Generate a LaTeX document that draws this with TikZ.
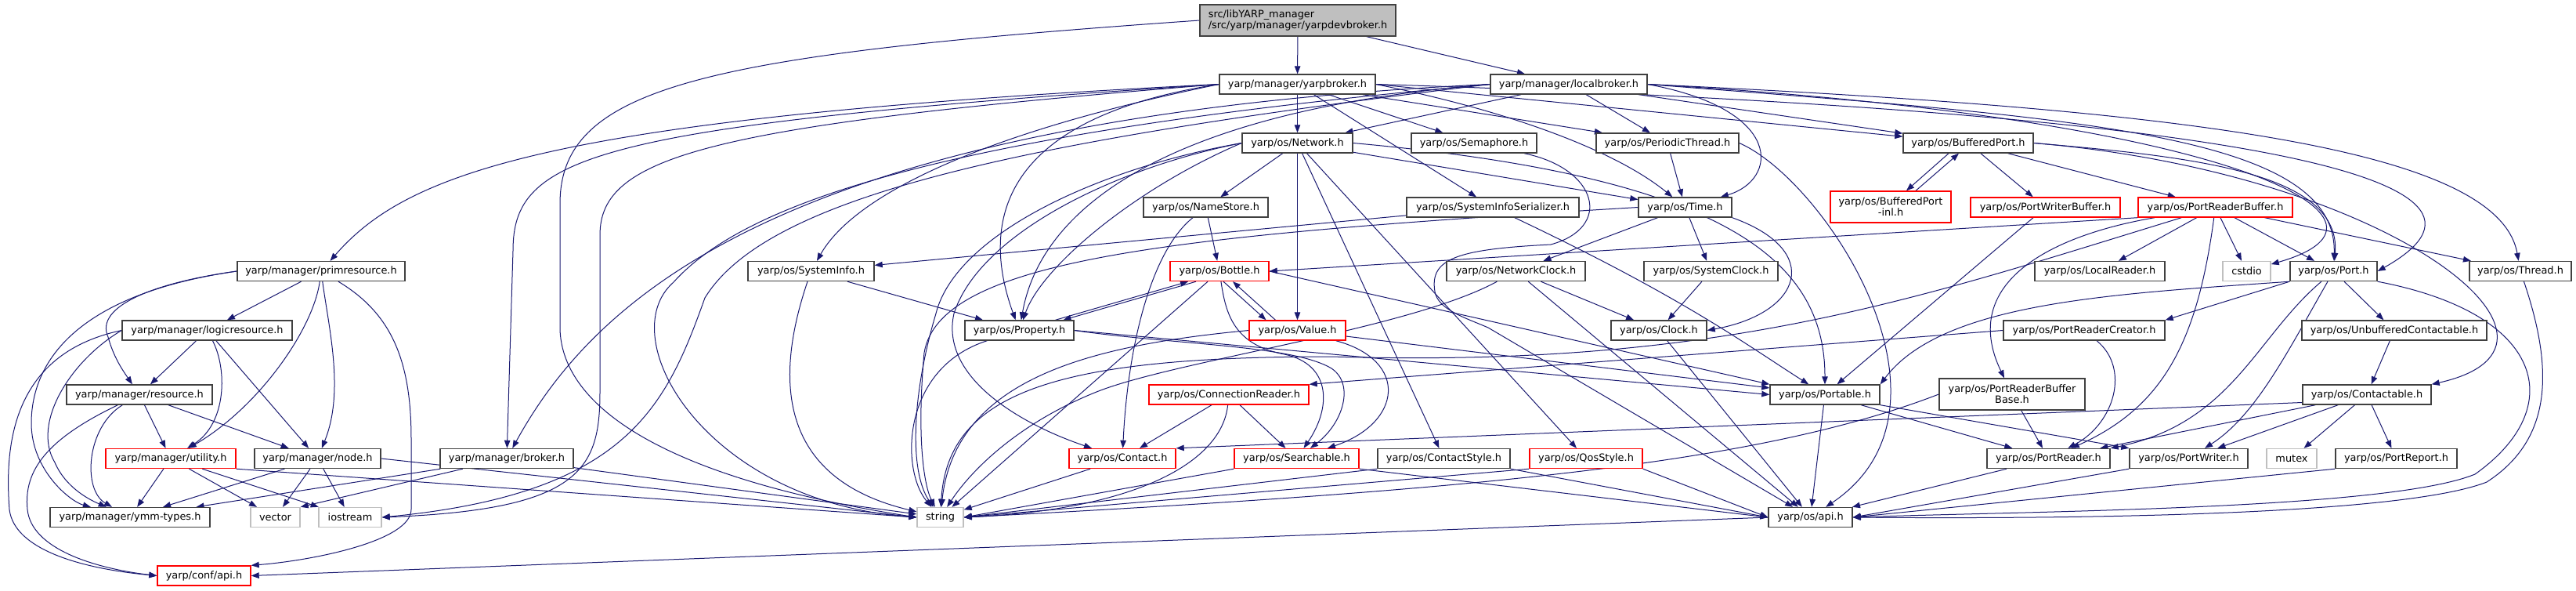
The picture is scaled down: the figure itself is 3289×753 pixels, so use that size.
\documentclass[tikz,border=0pt]{standalone}
\usepackage{fontspec}
\setmainfont{DejaVu Sans}
\usepackage{tikz}
\usetikzlibrary{arrows.meta, backgrounds}
\usepackage{xcolor}
\definecolor{edgeblue}{RGB}{25,25,112}
\definecolor{boxgray}{RGB}{64,64,64}
\definecolor{sysgray}{RGB}{191,191,191}
\definecolor{rootfill}{RGB}{191,191,191}

\begin{document}
\begin{tikzpicture}[x=1pt, y=1pt,
  file/.style={rectangle, draw=boxgray, line width=1.4pt, fill=white,
               inner sep=0pt, minimum height=25pt, align=center,
               font=\fontsize{12.9}{14}\selectfont},
  redfile/.style={file, draw=red},
  sysfile/.style={file, draw=sysgray},
  rootfile/.style={file, fill=rootfill, minimum height=40pt, align=left},
  edge/.style={-{Triangle[length=10pt, width=7.5pt]}, line width=1pt, edgeblue}
]
\useasboundingbox (0,0) rectangle (3289,-753);

% top: the documented file and its two brokers
\node[rootfile, minimum width=250pt] (root) at (1657,-26) {src/libYARP\_manager\\/src/yarp/manager/yarpdevbroker.h};
\node[file, minimum width=199pt] (yb) at (1656.5,-107.5) {yarp/manager/yarpbroker.h};
\node[file, minimum width=200pt] (lb) at (2003,-107.5) {yarp/manager/localbroker.h};

% yarp/os headers, row by row
\node[file, minimum width=141pt] (net) at (1656.5,-182.5) {yarp/os/Network.h};
\node[file, minimum width=160pt] (sem) at (1882,-182.5) {yarp/os/Semaphore.h};
\node[file, minimum width=182pt] (pthr) at (2129,-182.5) {yarp/os/PeriodicThread.h};
\node[file, minimum width=166pt] (bport) at (2513,-182.5) {yarp/os/BufferedPort.h};

\node[file, minimum width=159pt] (nstore) at (1539.5,-264.5) {yarp/os/NameStore.h};
\node[file, minimum width=220pt] (sis) at (1906,-264.5) {yarp/os/SystemInfoSerializer.h};
\node[file, minimum width=119pt] (time) at (2151.5,-264.5) {yarp/os/Time.h};
\node[redfile, minimum width=154pt, minimum height=40pt] (bpinl) at (2414,-264) {yarp/os/BufferedPort\\-inl.h};
\node[redfile, minimum width=191pt] (pwb) at (2611.5,-264.5) {yarp/os/PortWriterBuffer.h};
\node[redfile, minimum width=197pt] (prb) at (2828.5,-264.5) {yarp/os/PortReaderBuffer.h};

\node[file, minimum width=214pt] (prim) at (410,-346) {yarp/manager/primresource.h};
\node[file, minimum width=161pt] (sinfo) at (1035.5,-346) {yarp/os/SystemInfo.h};
\node[redfile, minimum width=126pt] (bottle) at (1557,-346) {yarp/os/Bottle.h};
\node[file, minimum width=177pt] (nclock) at (1935.5,-346) {yarp/os/NetworkClock.h};
\node[file, minimum width=171pt] (sclock) at (2184.5,-346) {yarp/os/SystemClock.h};
\node[file, minimum width=166pt] (lreader) at (2681,-346) {yarp/os/LocalReader.h};
\node[sysfile, minimum width=61pt] (cstdio) at (2868.5,-346) {cstdio};
\node[file, minimum width=111pt] (port) at (2979.5,-346) {yarp/os/Port.h};
\node[file, minimum width=130pt] (thread) at (3218,-346) {yarp/os/Thread.h};

\node[file, minimum width=217pt] (logic) at (264.5,-421.5) {yarp/manager/logicresource.h};
\node[file, minimum width=139pt] (prop) at (1301.5,-421.5) {yarp/os/Property.h};
\node[redfile, minimum width=123pt] (value) at (1656.5,-421.5) {yarp/os/Value.h};
\node[file, minimum width=122pt] (clock) at (2118,-421.5) {yarp/os/Clock.h};
\node[file, minimum width=206pt] (prc) at (2661,-421.5) {yarp/os/PortReaderCreator.h};
\node[file, minimum width=236pt] (ucont) at (3057,-421.5) {yarp/os/UnbufferedContactable.h};

\node[file, minimum width=186pt] (res) at (178,-503.5) {yarp/manager/resource.h};
\node[redfile, minimum width=204pt] (connr) at (1569,-503.5) {yarp/os/ConnectionReader.h};
\node[file, minimum width=140pt] (portable) at (2330,-503.5) {yarp/os/Portable.h};
\node[file, minimum width=186pt, minimum height=40pt] (prbb) at (2569,-503) {yarp/os/PortReaderBuffer\\Base.h};
\node[file, minimum width=164pt] (cont) at (3022,-503.5) {yarp/os/Contactable.h};

\node[redfile, minimum width=166pt] (util) at (218,-585) {yarp/manager/utility.h};
\node[file, minimum width=161pt] (mnode) at (405.5,-585) {yarp/manager/node.h};
\node[file, minimum width=170pt] (broker) at (647,-585) {yarp/manager/broker.h};
\node[redfile, minimum width=136pt] (contact) at (1433,-585) {yarp/os/Contact.h};
\node[redfile, minimum width=159pt] (search) at (1655.5,-585) {yarp/os/Searchable.h};
\node[file, minimum width=169pt] (cstyle) at (1843.5,-585) {yarp/os/ContactStyle.h};
\node[redfile, minimum width=144pt] (qos) at (2025,-585) {yarp/os/QosStyle.h};
\node[file, minimum width=157pt] (preader) at (2615.5,-585) {yarp/os/PortReader.h};
\node[file, minimum width=151pt] (pwriter) at (2794.5,-585) {yarp/os/PortWriter.h};
\node[sysfile, minimum width=64pt] (mutex) at (2926,-585) {mutex};
\node[file, minimum width=155pt] (preport) at (3059.5,-585) {yarp/os/PortReport.h};

% bottom: leaves
\node[file, minimum width=204pt] (ymm) at (166,-660) {yarp/manager/ymm-types.h};
\node[sysfile, minimum width=63pt] (vector) at (351.5,-660) {vector};
\node[sysfile, minimum width=80pt] (iostream) at (447,-660) {iostream};
\node[sysfile, minimum width=59pt] (string) at (1200.5,-660) {string};
\node[file, minimum width=107pt] (osapi) at (2311.5,-660) {yarp/os/api.h};
\node[redfile, minimum width=119pt] (capi) at (260.5,-734.5) {yarp/conf/api.h};

\begin{scope}[on background layer]
% root
\draw[edge] (root) -- (yb);
\draw[edge] (root) -- (lb);
\draw[edge] (root.west) .. controls (900,-70) and (715,-110) .. (715,-260) -- (715,-420) .. controls (718,-520) and (850,-610) .. (string.west);

% yarpbroker.h
\draw[edge] (yb) -- (net);
\draw[edge] (yb) -- (sem);
\draw[edge] (yb) -- (sis);
\draw[edge] (yb) -- (pthr);
\draw[edge] (yb.east) .. controls (1920,-140) and (2060,-190) .. (time);
\draw[edge] (yb.east) -- (bport);
\draw[edge] (yb.east) .. controls (2800,-140) and (3260,-220) .. (port.east);
\draw[edge] (yb.west) .. controls (700,-150) and (520,-220) .. (prim);
\draw[edge] (yb.west) .. controls (750,-160) and (655,-200) .. (655,-320) -- (broker);
\draw[edge] (yb.west) .. controls (1250,-170) and (1090,-250) .. (sinfo);
\draw[edge] (yb.west) .. controls (1280,-150) and (1250,-280) .. (prop);
\draw[edge] (yb.west) .. controls (900,-160) and (766,-200) .. (766,-300) -- (766,-500) .. controls (766,-600) and (740,-650) .. (iostream.east);

% localbroker.h
\draw[edge] (lb) -- (net);
\draw[edge] (lb) -- (pthr);
\draw[edge] (lb) -- (bport);
\draw[edge] (lb.east) .. controls (2280,-140) and (2270,-230) .. (time);
\draw[edge] (lb.east) .. controls (2650,-150) and (2985,-170) .. (port);
\draw[edge] (lb.east) .. controls (2800,-140) and (3190,-190) .. (thread);
\draw[edge] (lb.east) .. controls (2850,-150) and (3100,-280) .. (cstdio);
\draw[edge] (lb.west) .. controls (1000,-150) and (760,-380) .. (broker);
\draw[edge] (lb.west) .. controls (1500,-140) and (1330,-260) .. (prop);
\draw[edge] (lb.west) .. controls (1300,-180) and (980,-250) .. (900,-380) .. controls (850,-520) and (800,-630) .. (iostream.east);
\draw[edge] (lb.west) .. controls (1200,-170) and (950,-260) .. (860,-360) .. controls (780,-430) and (900,-640) .. (string.west);

% manager headers
\draw[edge] (prim) -- (logic);
\draw[edge] (prim.west) .. controls (200,-360) and (120,-390) .. (138,-430) .. controls (145,-455) and (155,-470) .. (res);
\draw[edge] (prim.west) .. controls (100,-375) and (40,-460) .. (40,-540) .. controls (40,-600) and (90,-640) .. (ymm);
\draw[edge] (prim) .. controls (400,-420) and (330,-520) .. (util);
\draw[edge] (prim) .. controls (420,-420) and (440,-500) .. (mnode);
\draw[edge] (prim) .. controls (500,-400) and (525,-460) .. (525,-560) -- (525,-650) .. controls (525,-690) and (400,-715) .. (capi.north east);

\draw[edge] (logic) -- (res);
\draw[edge] (logic) .. controls (290,-470) and (290,-540) .. (util);
\draw[edge] (logic) -- (mnode);
\draw[edge] (logic.west) .. controls (90,-460) and (40,-540) .. (70,-590) .. controls (85,-625) and (120,-640) .. (ymm);
\draw[edge] (logic.west) .. controls (20,-450) and (5,-560) .. (12,-650) .. controls (18,-700) and (100,-725) .. (capi.west);

\draw[edge] (res) -- (util);
\draw[edge] (res) -- (mnode);
\draw[edge] (res) .. controls (110,-545) and (105,-625) .. (ymm);
\draw[edge] (res) .. controls (60,-560) and (30,-600) .. (35,-650) .. controls (40,-700) and (120,-725) .. (capi.west);

\draw[edge] (util) -- (ymm);
\draw[edge] (util) -- (vector);
\draw[edge] (util) -- (iostream);
\draw[edge] (util.south east) -- (string.west);

\draw[edge] (mnode) -- (ymm);
\draw[edge] (mnode) -- (vector);
\draw[edge] (mnode) -- (iostream);
\draw[edge] (mnode.east) -- (string.west);

\draw[edge] (broker) -- (ymm);
\draw[edge] (broker) -- (vector.north east);
\draw[edge] (broker) -- (string);

% Network.h and friends
\draw[edge] (net) -- (nstore);
\draw[edge] (net) -- (value);
\draw[edge] (net) -- (cstyle);
\draw[edge] (net) -- (qos);
\draw[edge] (net) -- (time);
\draw[edge] (net.east) .. controls (2200,-225) and (2330,-330) .. (portable);
\draw[edge] (net.west) .. controls (1450,-240) and (1330,-340) .. (prop);
\draw[edge] (net.west) .. controls (1420,-215) and (1250,-300) .. (1218,-400) .. controls (1200,-480) and (1300,-540) .. (contact);
\draw[edge] (net.west) .. controls (1400,-215) and (1220,-300) .. (1195,-400) .. controls (1165,-500) and (1160,-600) .. (string);

\draw[edge] (nstore) -- (bottle);
\draw[edge] (nstore) .. controls (1470,-320) and (1440,-440) .. (contact);
\draw[edge] (sinfo) -- (prop);
\draw[edge] (sinfo) .. controls (990,-480) and (990,-610) .. (string);
\draw[edge] (sis) -- (sinfo);
\draw[edge] (sis) .. controls (2150,-380) and (2230,-440) .. (portable);
\draw[edge] (sem) .. controls (2040,-215) and (2060,-290) .. (1980,-312) .. controls (1860,-318) and (1825,-330) .. (1832,-372) .. controls (1836,-395) and (1870,-405) .. (1900,-418) -- (osapi);
\draw[edge] (pthr) -- (time);
\draw[edge] (pthr.east) .. controls (2330,-230) and (2520,-520) .. (osapi);

\draw[edge] (time) -- (nclock);
\draw[edge] (time) -- (sclock);
\draw[edge] (time.south east) .. controls (2330,-320) and (2300,-400) .. (clock.east);
\draw[edge] (time.west) .. controls (1500,-300) and (1200,-330) .. (1180,-450) .. controls (1170,-560) and (1180,-620) .. (string);

% BufferedPort.h
\draw[edge] ([xshift=-25pt]bport.south) -- ([xshift=20pt]bpinl.north);
\draw[edge] ([xshift=32pt]bpinl.north) -- ([xshift=-12pt]bport.south);
\draw[edge] (bport) -- (pwb);
\draw[edge] (bport) -- (prb);
\draw[edge] (bport.east) .. controls (2800,-200) and (2990,-220) .. (port);
\draw[edge] (bport.east) .. controls (3050,-220) and (3330,-440) .. (cont.north east);
\draw[edge] (pwb) -- (portable);

% PortReaderBuffer.h
\draw[edge] (prb.south west) -- (bottle.east);
\draw[edge] (prb) .. controls (2620,-300) and (2500,-360) .. (prbb);
\draw[edge] (prb) .. controls (2450,-380) and (2200,-470) .. (1700,-455) .. controls (1350,-455) and (1210,-500) .. (string);
\draw[edge] (prb) -- (lreader);
\draw[edge] (prb) -- (cstdio);
\draw[edge] (prb) -- (port);
\draw[edge] (prb) -- (thread);
\draw[edge] (prb) .. controls (2805,-440) and (2760,-520) .. (preader);

% Bottle, Property, Value
\draw[edge] ([xshift=-30pt]bottle.south) -- ([xshift=56pt]prop.north);
\draw[edge] ([xshift=5pt]bottle.south) -- ([xshift=-40pt]value.north);
\draw[edge] (bottle) .. controls (1565,-400) and (1575,-440) .. (1640,-452) .. controls (1700,-465) and (1700,-520) .. (search);
\draw[edge] (bottle.east) -- (portable.north west);
\draw[edge] (bottle) -- (string);

\draw[edge] ([xshift=46pt]prop.north) -- ([xshift=-40pt]bottle.south);
\draw[edge] (prop.east) .. controls (1500,-440) and (1650,-440) .. (1700,-470) .. controls (1730,-490) and (1715,-540) .. (search);
\draw[edge] (prop.east) -- (portable.west);
\draw[edge] (prop) .. controls (1150,-470) and (1150,-600) .. (string);

\draw[edge] ([xshift=-28pt]value.north) -- ([xshift=17pt]bottle.south);
\draw[edge] (value) .. controls (1800,-460) and (1790,-540) .. (search);
\draw[edge] (value) -- (portable);
\draw[edge] (value.west) .. controls (1400,-440) and (1220,-480) .. (string);

% clocks
\draw[edge] (nclock) -- (clock);
\draw[edge] (nclock) .. controls (1800,-420) and (1500,-460) .. (1400,-500) .. controls (1300,-540) and (1240,-600) .. (string);
\draw[edge] (nclock) -- (osapi);
\draw[edge] (sclock) -- (clock);
\draw[edge] (clock) -- (osapi);

% Port.h
\draw[edge] (port) -- (ucont);
\draw[edge] (port.south west) -- (prc.north east);
\draw[edge] (port.south west) .. controls (2700,-375) and (2480,-385) .. (portable.north east);
\draw[edge] (port) .. controls (2880,-430) and (2850,-540) .. (preader.north east);
\draw[edge] (port) .. controls (2920,-450) and (2880,-530) .. (pwriter);
\draw[edge] (port.south east) .. controls (3250,-400) and (3280,-520) .. (3160,-605) .. controls (3050,-650) and (2600,-652) .. (osapi.east);
\draw[edge] (thread) .. controls (3260,-470) and (3260,-560) .. (3175,-615) .. controls (3060,-660) and (2600,-662) .. (osapi.east);

% Contactable.h
\draw[edge] (ucont) -- (cont);
\draw[edge] ([yshift=-10pt]cont.west) -- (contact.north east);
\draw[edge] (cont) -- (preader);
\draw[edge] (cont) -- (pwriter);
\draw[edge] (cont) -- (mutex);
\draw[edge] (cont) -- (preport);

% readers
\draw[edge] (prc.west) -- (connr.north east);
\draw[edge] (prc) .. controls (2720,-470) and (2700,-540) .. (preader);
\draw[edge] (connr) -- (contact);
\draw[edge] (connr) -- (search);
\draw[edge] (connr) .. controls (1560,-590) and (1450,-650) .. (string.east);
\draw[edge] (prbb) -- (preader);
\draw[edge] (prbb.west) .. controls (2250,-590) and (1900,-625) .. (string.east);

% into string and api.h
\draw[edge] (contact) -- (string);
\draw[edge] (search.south west) -- (string.east);
\draw[edge] (search.south east) -- (osapi.west);
\draw[edge] (cstyle.south west) -- (string.east);
\draw[edge] (cstyle.south east) -- (osapi.west);
\draw[edge] (qos.south west) -- (string.east);
\draw[edge] (qos.south east) -- (osapi.west);
\draw[edge] (portable) -- (osapi);
\draw[edge] (portable) -- (preader);
\draw[edge] (portable.south east) -- (pwriter.north west);
\draw[edge] (preader) -- (osapi);
\draw[edge] (pwriter.south west) -- (osapi.east);
\draw[edge] (preport.south west) -- (osapi.east);
\draw[edge] (osapi.west) -- (capi.east);
\end{scope}

\end{tikzpicture}
\end{document}
